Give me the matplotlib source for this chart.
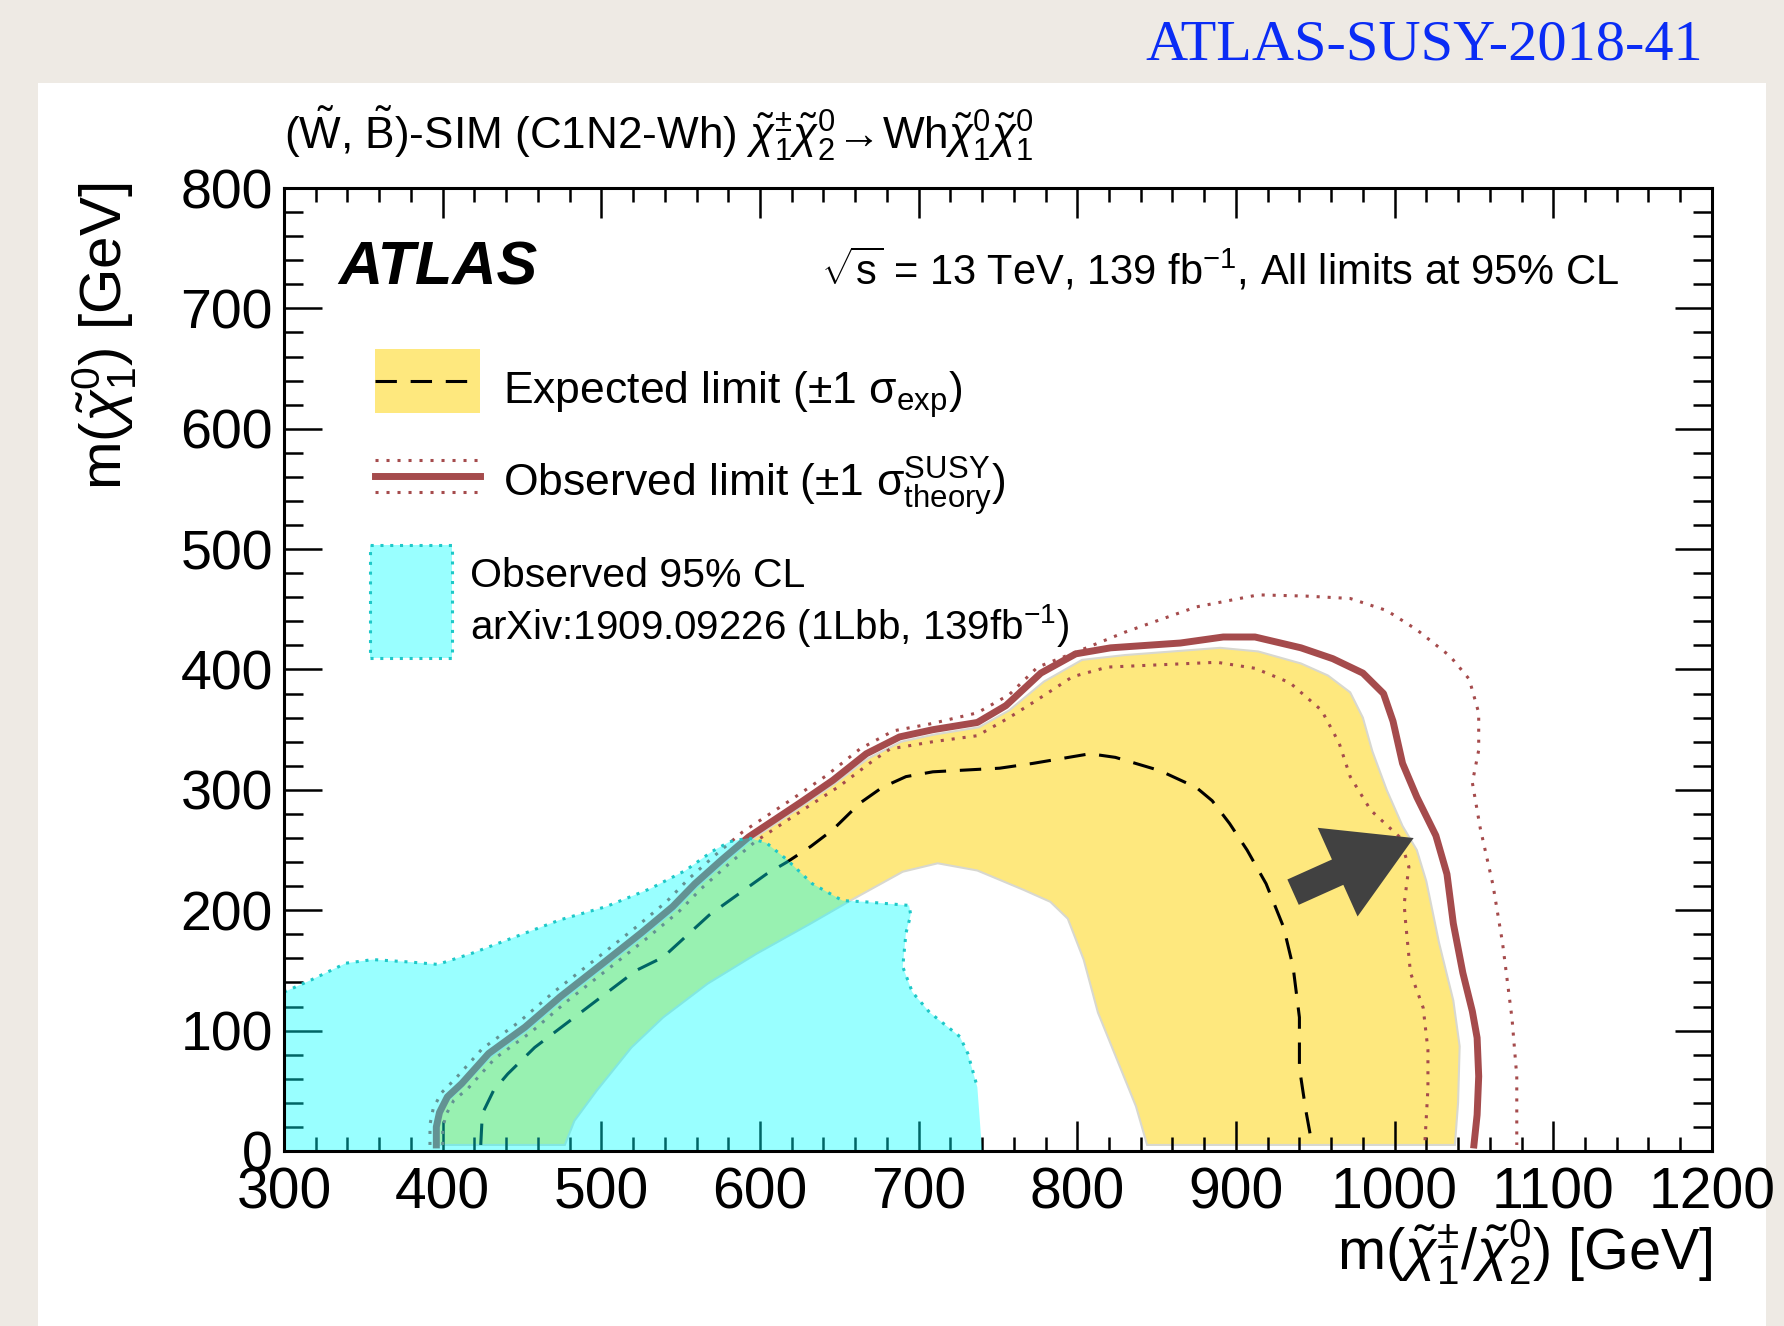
import numpy as np
import matplotlib.pyplot as plt
from matplotlib.patches import Rectangle
from matplotlib.ticker import MultipleLocator

plt.rcParams['font.family'] = ['Liberation Sans', 'DejaVu Sans']
plt.rcParams['mathtext.fontset'] = 'custom'
plt.rcParams['mathtext.rm'] = 'Liberation Sans'
plt.rcParams['mathtext.it'] = 'Liberation Sans:italic'
plt.rcParams['mathtext.bf'] = 'Liberation Sans:bold'

# expected +-1 sigma band, outer edge (bottom-left -> bottom-right)
band_out_x = [397, 397, 402, 412, 430, 453, 475, 504, 526, 546, 560, 577, 594, 610, 626, 647,
              668, 689, 710, 738, 757, 779, 803, 830, 890, 914, 941, 958, 972, 980, 986, 995,
              1005, 1014, 1020, 1028, 1037, 1041, 1040, 1038]
band_out_y = [5, 25, 40, 53, 78, 100, 125, 155, 178, 200, 219, 239, 258, 272, 286, 305,
              326, 340, 346, 352, 366, 390, 408, 412, 418, 415, 405, 395, 381, 360, 332, 300,
              270, 250, 224, 173, 125, 87, 40, 5]
# inner edge (bottom-right -> bottom-left)
band_in_x = [844, 837, 825, 813, 804, 794, 783, 766, 737, 712, 690, 657, 632, 598, 567, 539,
             519, 497, 483, 477]
band_in_y = [5, 37, 76, 115, 159, 193, 207, 217, 233, 239, 232, 208, 189, 164, 139, 111,
             86, 50, 25, 5]

# expected limit
exp_x = [424, 425, 432, 441, 458, 480, 508, 522, 539, 568, 604, 617, 632, 646, 663, 677, 692,
         709, 751, 772, 808, 824, 852, 875, 885, 896, 907, 919, 930, 936, 940, 940, 944, 948]
exp_y = [5, 31, 50, 64, 86, 108, 136, 150, 161, 196, 230, 240, 253, 267, 289, 302, 311,
         315, 318, 322, 330, 327, 316, 302, 291, 272, 250, 222, 186, 153, 111, 69, 34, 5]

# observed limit
obs_x = [396, 396, 398, 403, 412, 429, 452, 474, 503, 525, 545, 559, 576, 593, 609, 625, 646,
         667, 688, 709, 737, 755, 777, 799, 821, 865, 892, 912, 941, 961, 980, 993, 999, 1005,
         1014, 1026, 1033, 1037, 1043, 1049, 1052, 1053, 1052, 1050]
obs_y = [5, 20, 32, 45, 56, 81, 103, 128, 158, 181, 203, 222, 242, 261, 275, 289, 308,
         330, 344, 350, 356, 370, 397, 413, 418, 422, 427, 427, 418, 409, 397, 380, 357, 322,
         294, 262, 230, 189, 148, 116, 94, 62, 30, 5]

# observed +1 sigma theory
obs_up_x = [392, 392, 394, 399, 408, 425, 448, 470, 499, 521, 541, 555, 572, 589, 605, 621, 642,
            663, 684, 708, 737, 757, 775, 802, 830, 875, 914, 944, 972, 995, 1014, 1035, 1047,
            1053, 1053, 1049, 1054, 1062, 1068, 1074, 1077, 1077]
obs_up_y = [5, 22, 35, 48, 60, 85, 107, 132, 162, 185, 207, 226, 246, 265, 279, 293, 312,
            334, 349, 355, 364, 379, 402, 416, 431, 452, 462, 461, 459, 449, 433, 411, 392,
            364, 333, 306, 268, 221, 173, 110, 62, 5]

# observed -1 sigma theory
obs_dn_x = [400, 400, 402, 407, 416, 433, 456, 478, 507, 529, 549, 563, 580, 597, 613, 629, 650,
            671, 682, 709, 737, 757, 775, 797, 819, 888, 912, 934, 954, 965, 972, 985, 1003,
            1009, 1006, 1007, 1010, 1018, 1021, 1021, 1019]
obs_dn_y = [5, 18, 30, 42, 52, 77, 99, 124, 154, 177, 199, 218, 238, 257, 271, 285, 303,
            324, 334, 340, 345, 360, 375, 394, 402, 406, 401, 389, 366, 339, 311, 283, 261,
            236, 205, 189, 148, 119, 84, 52, 5]

# 1Lbb observed 95% CL region
lbb_x = [300, 300, 317, 339, 356, 379, 397, 418, 446, 474, 503, 531, 553, 570, 581, 593, 604,
         617, 633, 652, 666, 694, 695, 692, 690, 696, 707, 726, 731, 737, 740]
lbb_y = [0, 132, 142, 156, 159, 157, 155, 164, 178, 192, 203, 218, 233, 249, 257, 260, 256,
         242, 222, 208, 207, 204, 196, 181, 153, 132, 115, 95, 81, 53, 0]

arrow_tail = (936, 215)
arrow_tip = (1012, 260)

YELLOW = '#FEE87E'
OBS_RED = '#A54B4C'
CYAN = '#00FFFF'
CYAN_EDGE = '#1EC8C8'

fig = plt.figure(figsize=(17.84, 13.26), dpi=100)
fig.patch.set_facecolor('#EEEAE4')
fig.add_artist(Rectangle((0.0213, 0), 0.9686, 0.9374, transform=fig.transFigure,
                         facecolor='white', edgecolor='none', zorder=-5))

ax = fig.add_axes([0.1592, 0.1320, 0.8004, 0.7262])
ax.set_xlim(300, 1200)
ax.set_ylim(0, 800)

ax.fill(band_out_x + band_in_x, band_out_y + band_in_y, facecolor=YELLOW,
        edgecolor='#D8D8D0', lw=1.5, zorder=1)
ax.plot(exp_x, exp_y, color='black', lw=2.2, ls=(0, (7, 4.5)), zorder=2)
ax.plot(obs_up_x, obs_up_y, color=OBS_RED, lw=2.2, ls=(0, (1, 2.6)), zorder=2)
ax.plot(obs_dn_x, obs_dn_y, color=OBS_RED, lw=2.2, ls=(0, (1, 2.6)), zorder=2)
ax.plot(obs_x, obs_y, color=OBS_RED, lw=5, zorder=3, solid_joinstyle='round')
ax.fill(lbb_x, lbb_y, facecolor=CYAN, alpha=0.4, edgecolor='none', zorder=4)
ax.plot(lbb_x[1:-1], lbb_y[1:-1], color=CYAN_EDGE, lw=2.2, ls=(0, (1, 2.2)), zorder=4)

ax.annotate('', xy=arrow_tip, xytext=arrow_tail, zorder=6,
            arrowprops=dict(arrowstyle='simple,head_length=60,head_width=70,tail_width=20',
                            mutation_scale=1, color='#414141', shrinkA=0, shrinkB=0, lw=0))

# axes / ticks in ROOT style
ax.xaxis.set_major_locator(MultipleLocator(100))
ax.xaxis.set_minor_locator(MultipleLocator(20))
ax.yaxis.set_major_locator(MultipleLocator(100))
ax.yaxis.set_minor_locator(MultipleLocator(20))
ax.tick_params(which='both', direction='in', top=True, right=True, width=1.8, zorder=10)
ax.tick_params(axis='x', which='major', length=21.6, labelsize=41, pad=11)
ax.tick_params(axis='x', which='minor', length=10)
ax.tick_params(axis='y', which='major', length=27, labelsize=40, pad=8)
ax.tick_params(axis='y', which='minor', length=14)
for s in ax.spines.values():
    s.set_linewidth(2.2)
    s.set_zorder(10)

# legend (drawn by hand, ROOT style)
T = ax.transAxes
ax.add_patch(Rectangle((0.0637, 0.7664), 0.0736, 0.0664, transform=T,
                       facecolor=YELLOW, edgecolor='none', zorder=7))
ax.plot([0.0637, 0.1373], [0.7996, 0.7996], transform=T, color='black', lw=2.2,
        ls=(0, (7, 4.5)), zorder=8)
ax.text(0.1534, 0.7757, r'Expected limit ($\pm$1 σ$_{\rm exp}$)', transform=T,
        fontsize=32, va='baseline', ha='left', zorder=8)

ax.plot([0.0637, 0.1373], [0.7009, 0.7009], transform=T, color=OBS_RED, lw=5, zorder=8)
for yy in (0.7175, 0.6843):
    ax.plot([0.0637, 0.1373], [yy, yy], transform=T, color=OBS_RED, lw=2.2,
            ls=(0, (1, 2.6)), zorder=8)
ax.text(0.1534, 0.679, r'Observed limit ($\pm$1 σ$^{\rm SUSY}_{\rm theory}$)', transform=T,
        fontsize=32, va='baseline', ha='left', zorder=8)

ax.add_patch(Rectangle((0.0602, 0.512), 0.0574, 0.117, transform=T, facecolor=CYAN,
                       alpha=0.4, edgecolor='none', zorder=7))
ax.add_patch(Rectangle((0.0602, 0.512), 0.0574, 0.117, transform=T, facecolor='none',
                       edgecolor=CYAN_EDGE, lw=2.2, ls=(0, (1, 2.2)), zorder=8))
ax.text(0.1303, 0.5857, 'Observed 95% CL', transform=T, fontsize=29.5,
        va='baseline', ha='left', zorder=8)
ax.text(0.1303, 0.5317, r'arXiv:1909.09226 (1Lbb, 139fb$^{-1}$)', transform=T, fontsize=29,
        va='baseline', ha='left', zorder=8)

ax.text(0.0378, 0.9003, 'ATLAS', transform=T, fontsize=44, fontweight='bold',
        fontstyle='italic', va='baseline', ha='left')
ax.text(0.376, 0.9003, r'$\sqrt{\mathrm{s}}$ = 13 TeV, 139 fb$^{-1}$, All limits at 95% CL',
        transform=T, fontsize=30, va='baseline', ha='left')

# titles and axis labels
fig.text(0.1592, 0.8876,
         r'($\tilde{\mathrm{W}}$, $\tilde{\mathrm{B}}$)-SIM (C1N2-Wh) '
         r'$\tilde{\chi}^{\pm}_{1}\tilde{\chi}^{0}_{2}\!\rightarrow\!$Wh'
         r'$\tilde{\chi}^{0}_{1}\tilde{\chi}^{0}_{1}$',
         fontsize=31.8, va='baseline', ha='left')
fig.text(0.0589, 0.8627, r'm($\tilde{\chi}^{0}_{1}$) [GeV]', rotation=90,
         fontsize=42, ha='center', va='top')
fig.text(0.9596, 0.0422, r'm($\tilde{\chi}^{\pm}_{1}$/$\tilde{\chi}^{0}_{2}$) [GeV]',
         fontsize=41.5, ha='right', va='baseline')

fig.text(0.9546, 0.9555, 'ATLAS-SUSY-2018-41', fontsize=42, color='#0A2CF5',
         family=['Liberation Serif', 'DejaVu Serif'], ha='right', va='baseline')

fig.savefig('out.png', dpi=100, facecolor=fig.get_facecolor())
